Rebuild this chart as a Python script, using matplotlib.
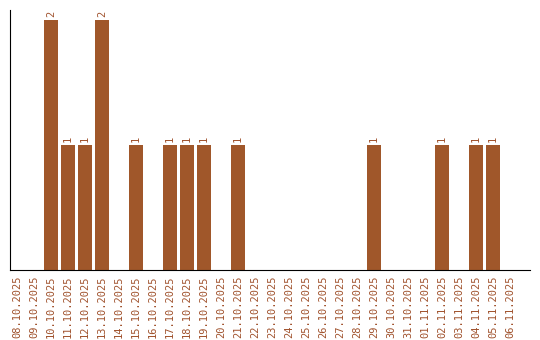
import matplotlib
matplotlib.use("Agg")
import matplotlib.pyplot as plt

dates = ["08.10.2025", "09.10.2025", "10.10.2025", "11.10.2025", "12.10.2025",
         "13.10.2025", "14.10.2025", "15.10.2025", "16.10.2025", "17.10.2025",
         "18.10.2025", "19.10.2025", "20.10.2025", "21.10.2025", "22.10.2025",
         "23.10.2025", "24.10.2025", "25.10.2025", "26.10.2025", "27.10.2025",
         "28.10.2025", "29.10.2025", "30.10.2025", "31.10.2025", "01.11.2025",
         "02.11.2025", "03.11.2025", "04.11.2025", "05.11.2025", "06.11.2025"]
counts = [0, 0, 2, 1, 1, 2, 0, 1, 0, 1, 1, 1, 0, 1, 0,
          0, 0, 0, 0, 0, 0, 1, 0, 0, 0, 1, 0, 1, 1, 0]

bar_color = "#A0572A"
text_color = "#A0522D"

fig = plt.figure(figsize=(5.4, 3.4), dpi=100)
ax = fig.add_axes([0.0194, 0.206, 0.962, 0.765])

x = list(range(len(dates)))
ax.bar(x, counts, width=0.82, color=bar_color)

# value labels above non-empty bars
for i, v in zip(x, counts):
    if v > 0:
        ax.text(i, v + 0.02, str(v), rotation=90, ha="center", va="bottom",
                color=text_color, fontsize=7.5, family="DejaVu Sans Mono")

ax.set_xlim(-0.38, 30.18)
ax.set_ylim(0, 2.08)
ax.set_xticks(x)
ax.set_xticklabels(dates, rotation=90, color=text_color, fontsize=7.5,
                   family="DejaVu Sans Mono")
ax.tick_params(axis="x", length=0, pad=4)
ax.set_yticks([])
ax.spines["top"].set_visible(False)
ax.spines["right"].set_visible(False)

fig.savefig("out.png", dpi=100)
